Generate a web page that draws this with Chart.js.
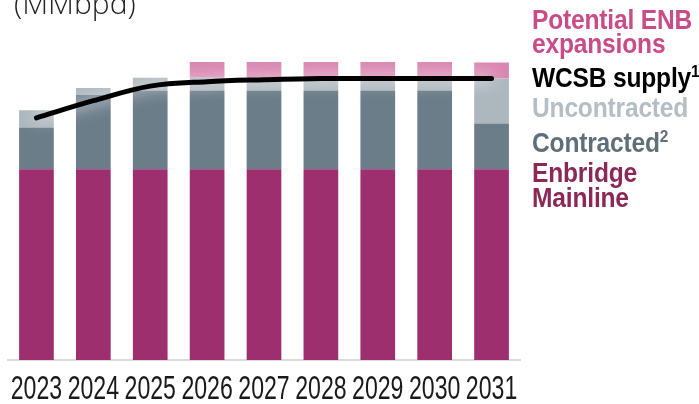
<!DOCTYPE html>
<html>
<head>
<meta charset="utf-8">
<script src="https://cdn.jsdelivr.net/npm/chart.js@4/dist/chart.umd.min.js"></script>
<style>
  body { margin: 0; background: #fff; }
  #wrap { position: relative; width: 699px; height: 404px; overflow: hidden; }
  #unit { position: absolute; left: 14px; top: -12px; font: 300 30px "Open Sans", sans-serif; color: #222; line-height: 30px; white-space: nowrap; }
  .lg { position: absolute; left: 532px; font: bold 27px "Liberation Sans", sans-serif; line-height: 26px; white-space: nowrap;
        transform: scaleX(0.91); transform-origin: left top; letter-spacing: -0.2px; }
  .lg sup { font-size: 17px; vertical-align: 10px; line-height: 0; }
</style>
</head>
<body>
<div id="wrap">
  <canvas id="mychart" width="699" height="404"></canvas>
  <div id="unit">(MMbpd)</div>
  <div class="lg" style="top:7px;color:#c94b88">Potential ENB</div>
  <div class="lg" style="top:31px;color:#c94b88">expansions</div>
  <div class="lg" style="top:65px;color:#000">WCSB supply<sup>1</sup></div>
  <div class="lg" style="top:95px;color:#b4bec4">Uncontracted</div>
  <div class="lg" style="top:130px;color:#5f6f79">Contracted<sup>2</sup></div>
  <div class="lg" style="top:160px;color:#8c2857">Enbridge</div>
  <div class="lg" style="top:185px;color:#8c2857">Mainline</div>
</div>
<script>
const anos = ['2023', '2024', '2025', '2026', '2027', '2028', '2029', '2030', '2031']
const mainline = [3.0, 3.0, 3.0, 3.0, 3.0, 3.0, 3.0, 3.0, 3.0]
const contratado = [0.66, 1.17, 1.24, 1.24, 1.24, 1.24, 1.24, 1.24, 0.72]
const nao_contratado = [0.27, 0.11, 0.2, 0.2, 0.2, 0.2, 0.2, 0.2, 0.71]
const expansoes = [0, 0, 0, 0.25, 0.25, 0.25, 0.25, 0.25, 0.25]
const oferta_wcsb = [3.81, 4.08, 4.31, 4.38, 4.41, 4.43, 4.43, 4.43, 4.43]

// brilho branco em volta da linha
const brilho = {
    id: 'brilho',
    beforeDatasetDraw(chart, args) {
        if (chart.data.datasets[args.index].type !== 'line') return
        chart.ctx.save()
        chart.ctx.shadowColor = '#ffffff'
        chart.ctx.shadowBlur = 16
    },
    afterDatasetDraw(chart, args) {
        if (chart.data.datasets[args.index].type !== 'line') return
        chart.ctx.restore()
    }
}

// rotulos do eixo x em fonte estreita (nao tem Arial Narrow aqui)
const rotulos = {
    id: 'rotulos',
    afterDraw(chart) {
        const ctx = chart.ctx
        const eixo = chart.scales.x
        const base = chart.chartArea.bottom + 39
        ctx.save()
        ctx.font = '33px "Liberation Sans"'
        ctx.fillStyle = '#1a1a1a'
        ctx.textAlign = 'center'
        ctx.textBaseline = 'alphabetic'
        anos.forEach((ano, i) => {
            ctx.save()
            ctx.translate(eixo.getPixelForTick(i), base)
            ctx.scale(0.7, 1)
            ctx.fillText(ano, 0, 0)
            ctx.restore()
        })
        ctx.restore()
    }
}

const barra = { type: 'bar', stack: 'a', order: 1, barPercentage: 0.61, categoryPercentage: 1 }

const data_oferta = {
    labels: anos,
    datasets: [
        { ...barra, label: 'Enbridge Mainline', data: mainline, backgroundColor: '#9e2f6f' },
        { ...barra, label: 'Contracted', data: contratado, backgroundColor: '#6b7d89' },
        { ...barra, label: 'Uncontracted', data: nao_contratado, backgroundColor: '#adb7be' },
        { ...barra, label: 'Potential ENB expansions', data: expansoes, backgroundColor: '#d987b1' },
        {
            type: 'line',
            label: 'WCSB supply',
            data: oferta_wcsb,
            stack: 'linha',
            order: 0,
            borderColor: '#000',
            borderWidth: 5,
            borderCapStyle: 'round',
            pointRadius: 0,
            fill: false,
            tension: 0.35
        }
    ]
}

const config = {
    type: 'bar',
    data: data_oferta,
    options: {
        responsive: false,
        animation: false,
        layout: { padding: { left: 8, right: 179, top: 20, bottom: 44 } },
        plugins: { legend: { display: false }, tooltip: { enabled: false } },
        scales: {
            x: {
                stacked: true,
                grid: { display: false, drawTicks: false },
                border: { display: true, color: '#dcdcdc', width: 2 },
                ticks: { display: false }
            },
            y: { stacked: true, display: false, min: 0, max: 5.35 }
        }
    },
    plugins: [brilho, rotulos]
}

const grafico = new Chart(document.querySelector('#mychart'), config)
</script>
</body>
</html>
